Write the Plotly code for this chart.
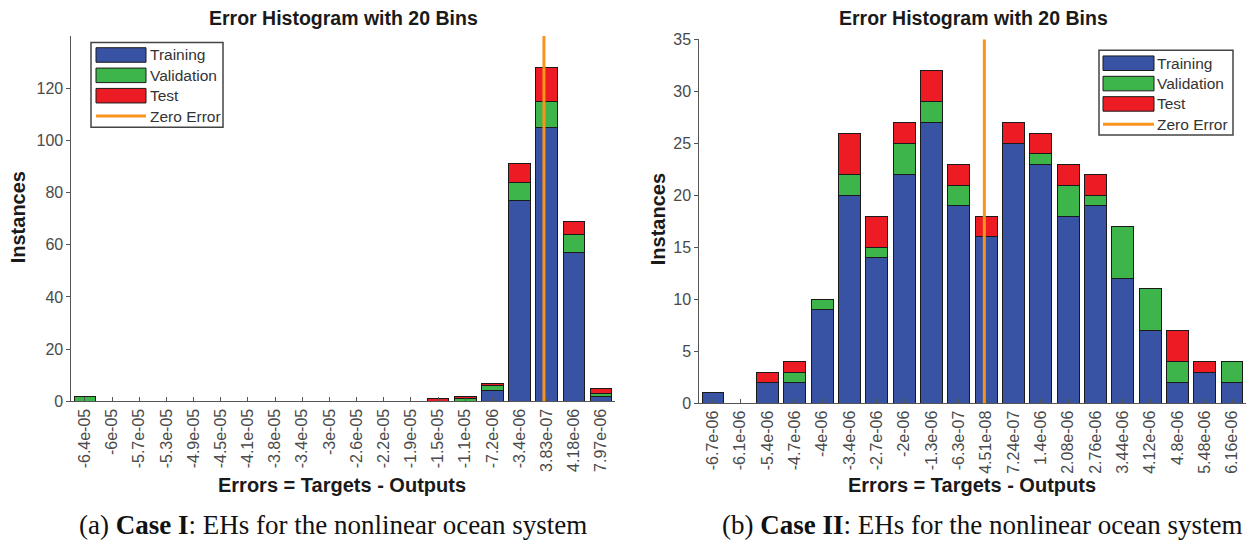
import numpy as np
import plotly.graph_objects as go

W, H = 1249, 546

# ---------------- data ----------------
labels_a = ["-6.4e-05", "-6e-05", "-5.7e-05", "-5.3e-05", "-4.9e-05", "-4.5e-05", "-4.1e-05",
            "-3.8e-05", "-3.4e-05", "-3e-05", "-2.6e-05", "-2.2e-05", "-1.9e-05", "-1.5e-05",
            "-1.1e-05", "-7.2e-06", "-3.4e-06", "3.83e-07", "4.18e-06", "7.97e-06"]
train_a = [0, 0, 0, 0, 0, 0, 0, 0, 0, 0, 0, 0, 0, 0, 0, 4, 77, 105, 57, 2]
valid_a = [2, 0, 0, 0, 0, 0, 0, 0, 0, 0, 0, 0, 0, 0, 1, 2, 7, 10, 7, 1]
test_a = [0, 0, 0, 0, 0, 0, 0, 0, 0, 0, 0, 0, 0, 1, 1, 1, 7, 13, 5, 2]

labels_b = ["-6.7e-06", "-6.1e-06", "-5.4e-06", "-4.7e-06", "-4e-06", "-3.4e-06", "-2.7e-06",
            "-2e-06", "-1.3e-06", "-6.3e-07", "4.51e-08", "7.24e-07", "1.4e-06", "2.08e-06",
            "2.76e-06", "3.44e-06", "4.12e-06", "4.8e-06", "5.48e-06", "6.16e-06"]
train_b = [1, 0, 2, 2, 9, 20, 14, 22, 27, 19, 16, 25, 23, 18, 19, 12, 7, 2, 3, 2]
valid_b = [0, 0, 0, 1, 1, 2, 1, 3, 2, 2, 0, 0, 1, 3, 1, 5, 4, 2, 0, 2]
test_b = [0, 0, 1, 1, 0, 4, 3, 2, 3, 2, 2, 2, 2, 2, 2, 0, 0, 3, 1, 0]

yticks_a = [0, 20, 40, 60, 80, 100, 120]
yticks_b = [0, 5, 10, 15, 20, 25, 30, 35]

series_names = ["Training", "Validation", "Test"]
colors = ["#3953A4", "#3DB54A", "#ED1C24"]
ORANGE = "#F7941D"

FONT = "Liberation Sans, Arial, sans-serif"
SERIF = "Liberation Serif, Times New Roman, serif"
AXC = "#555555"
TICKC = "#4a4a4a"


def px(x):
    return x / W


def py(y):
    return 1 - y / H


fig = go.Figure()

panels = [
    dict(labels=labels_a, data=[train_a, valid_a, test_a], xa="x", ya="y",
         xdom=[px(71.4), px(614.6)], ydom=[py(406), py(29)], yr=[0, 140], yt=yticks_a),
    dict(labels=labels_b, data=[train_b, valid_b, test_b], xa="x2", ya="y2",
         xdom=[px(699.3), px(1245.7)], ydom=[py(408), py(32.5)], yr=[0, 35], yt=yticks_b),
]

shapes = []
for i, p in enumerate(panels):
    idx = np.arange(len(p["labels"]))
    centers = np.array([float(s) for s in p["labels"]])
    for name, vals, col in zip(series_names, p["data"], colors):
        # empty segments are left out so no zero-height outline is drawn
        yv = [v if v > 0 else None for v in vals]
        fig.add_trace(go.Bar(
            x=idx, y=yv, name=name, xaxis=p["xa"], yaxis=p["ya"], width=0.8,
            marker=dict(color=col, line=dict(color="#1a1a1a", width=1)),
            showlegend=False,
        ))
    zero_pos = float(np.interp(0.0, centers, idx))
    shapes.append(dict(type="line", xref=p["xa"], yref=f"{p['ya']} domain",
                       x0=zero_pos, x1=zero_pos, y0=0, y1=1,
                       line=dict(color=ORANGE, width=3), layer="above"))
    sfx = "" if i == 0 else "2"
    fig.layout[f"xaxis{sfx}"] = dict(
        domain=p["xdom"], range=[-0.5, 19.5], anchor=p["ya"],
        tickmode="array", tickvals=list(idx), ticktext=p["labels"],
        tickangle=-90, ticks="inside", ticklen=4, tickcolor=AXC,
        showline=True, linecolor=AXC, linewidth=1, mirror=False,
        showgrid=False, zeroline=False,
        tickfont=dict(family=FONT, size=16, color=TICKC),
    )
    fig.layout[f"yaxis{sfx}"] = dict(
        domain=p["ydom"], range=p["yr"], anchor=p["xa"],
        tickmode="array", tickvals=p["yt"], ticks="outside", ticklen=4, tickcolor=AXC,
        showline=True, linecolor=AXC, linewidth=1,
        showgrid=False, zeroline=False,
        tickfont=dict(family=FONT, size=16, color=TICKC),
    )

annotations = []


def text(x, y, s, size, bold=False, angle=0, family=FONT, color="#1a1a1a", xanchor="center"):
    annotations.append(dict(
        x=px(x), y=py(y), xref="paper", yref="paper", text=f"<b>{s}</b>" if bold else s,
        showarrow=False, textangle=angle, xanchor=xanchor, yanchor="middle",
        font=dict(family=family, size=size, color=color),
    ))


# titles
text(343, 10, "Error Histogram with 20 Bins", 19.5, bold=True)
text(973, 10, "Error Histogram with 20 Bins", 19.5, bold=True)
# axis titles
text(342, 492.5, "Errors = Targets - Outputs", 20, bold=True)
text(972, 492.5, "Errors = Targets - Outputs", 20, bold=True)
text(18, 216, "Instances", 20, bold=True, angle=-90)
text(658, 218, "Instances", 20, bold=True, angle=-90)
# captions
text(333, 534, "(a) <b>Case I</b>: EHs for the nonlinear ocean system", 27, family=SERIF, color="#111111")
text(982, 534, "(b) <b>Case II</b>: EHs for the nonlinear ocean system", 27, family=SERIF, color="#111111")


# legends (drawn as boxed keys)
def legend(bx0, by0, bx1, by1, rows, sx0, sx1, tx):
    shapes.append(dict(type="rect", xref="paper", yref="paper",
                       x0=px(bx0), x1=px(bx1), y0=py(by1), y1=py(by0),
                       line=dict(color="#444444", width=1.5), fillcolor="white", layer="above"))
    for k, (name, col) in enumerate(zip(series_names, colors)):
        yc = rows[k]
        shapes.append(dict(type="rect", xref="paper", yref="paper",
                           x0=px(sx0), x1=px(sx1), y0=py(yc + 7.5), y1=py(yc - 7.5),
                           line=dict(color="#1a1a1a", width=1), fillcolor=col, layer="above"))
        text(tx, yc, name, 15.5, color="#333333", xanchor="left")
    yc = rows[3]
    shapes.append(dict(type="line", xref="paper", yref="paper",
                       x0=px(sx0), x1=px(sx1), y0=py(yc), y1=py(yc),
                       line=dict(color=ORANGE, width=3), layer="above"))
    text(tx, yc, "Zero Error", 15.5, color="#333333", xanchor="left")


legend(91, 35.5, 223, 123, [48.5, 69.5, 90.5, 111.5], 96, 146, 148)
legend(1099, 43.5, 1233, 131, [57, 78, 99, 120], 1103, 1154, 1155)

fig.update_layout(
    width=W, height=H, margin=dict(l=0, r=0, t=0, b=0),
    barmode="stack", bargap=0.2,
    plot_bgcolor="white", paper_bgcolor="white",
    shapes=shapes, annotations=annotations, showlegend=False,
)

fig.write_html("out.html")
